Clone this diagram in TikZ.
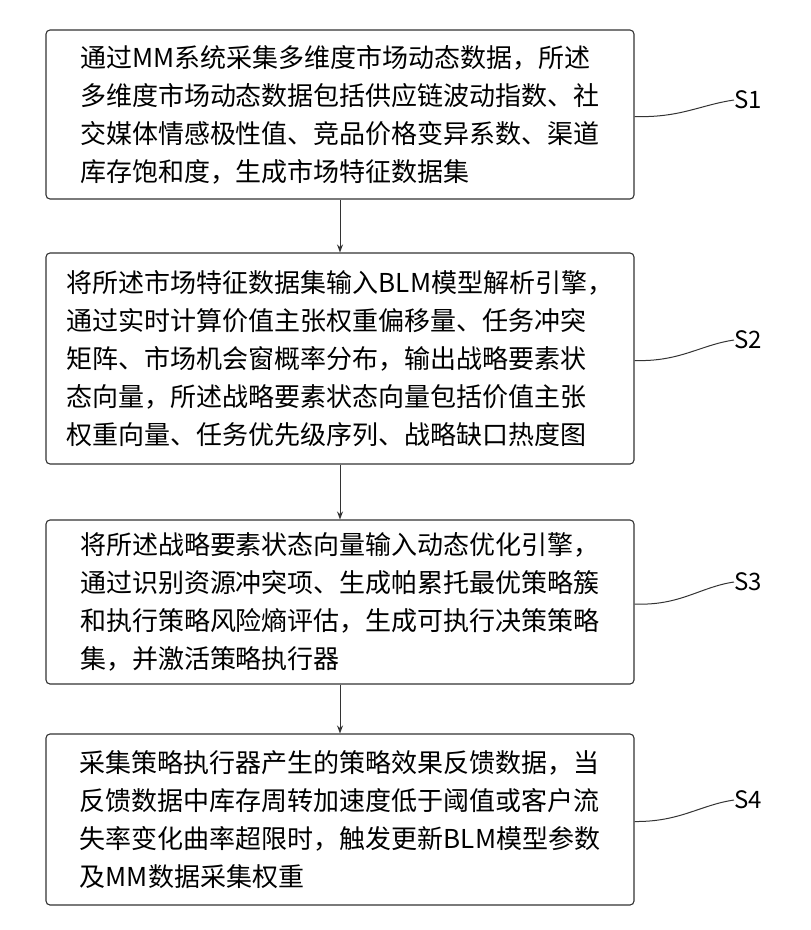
\documentclass[tikz,border=0pt]{standalone}
\usepackage{fontspec}
\usetikzlibrary{arrows.meta}
\setmainfont{Noto Sans CJK SC}
\begin{document}
\begin{tikzpicture}[x=1pt,y=-1pt,
  stepbox/.style={draw=black!80,line width=1.1pt,rounded corners=4pt,minimum width=588pt,align=left,inner sep=0pt,font=\fontsize{26}{38}\selectfont},
  arr/.style={draw=black!80,line width=1pt,-{Stealth[length=8pt,width=6pt]}},
  lead/.style={draw=black!80,line width=1pt},
  lab/.style={font=\fontsize{24}{28}\selectfont,inner sep=0pt}]
\useasboundingbox (0,0) rectangle (811,930);
\node[stepbox,minimum height=169pt] (b1) at (340,114.5) {通过MM系统采集多维度市场动态数据，所述\\多维度市场动态数据包括供应链波动指数、社\\交媒体情感极性值、竞品价格变异系数、渠道\\库存饱和度，生成市场特征数据集};
\node[stepbox,minimum height=211pt] (b2) at (340,358.5) {将所述市场特征数据集输入BLM模型解析引擎，\\通过实时计算价值主张权重偏移量、任务冲突\\矩阵、市场机会窗概率分布，输出战略要素状\\态向量，所述战略要素状态向量包括价值主张\\权重向量、任务优先级序列、战略缺口热度图};
\node[stepbox,minimum height=164pt] (b3) at (340,602) {将所述战略要素状态向量输入动态优化引擎，\\通过识别资源冲突项、生成帕累托最优策略簇\\和执行策略风险熵评估，生成可执行决策策略\\集，并激活策略执行器};
\node[stepbox,minimum height=171pt] (b4) at (340,819.5) {采集策略执行器产生的策略效果反馈数据，当\\反馈数据中库存周转加速度低于阈值或客户流\\失率变化曲率超限时，触发更新BLM模型参数\\及MM数据采集权重};
\draw[arr] (b1.south) -- (b2.north);
\draw[arr] (b2.south) -- (b3.north);
\draw[arr] (b3.south) -- (b4.north);
\node[lab] (s1) at (748,100) {S1};
\node[lab] (s2) at (748,340) {S2};
\node[lab] (s3) at (748,582) {S3};
\node[lab] (s4) at (748,800) {S4};
\draw[lead] (b1.east) ++(0,2) .. controls (680,118) and (700,105) .. (s1.west);
\draw[lead] (b2.east) ++(0,2) .. controls (680,362) and (700,345) .. (s2.west);
\draw[lead] (b3.east) ++(0,2) .. controls (680,606) and (700,587) .. (s3.west);
\draw[lead] (b4.east) ++(0,2) .. controls (680,822) and (700,805) .. (s4.west);
\end{tikzpicture}
\end{document}
